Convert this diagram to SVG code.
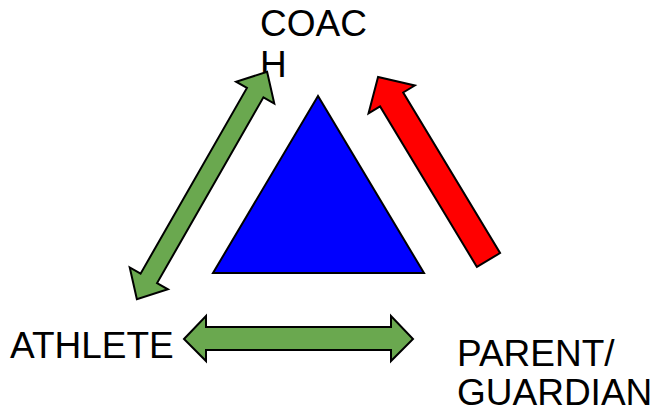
<svg xmlns="http://www.w3.org/2000/svg" width="654" height="412" viewBox="0 0 654 412">
<style>
.lbl{font-family:"Liberation Sans",Arial,sans-serif;font-size:37px;fill:#000}
.arr{stroke:#000;stroke-width:2;stroke-linejoin:miter}
.green{fill:#6aa84f}
</style>
<rect width="654" height="412" fill="#fff"/>
<g id="center-triangle">
<polygon points="318,96 213,273 424,273" fill="#0000ff" stroke="#000" stroke-width="2"/>
</g>
<g id="coach">
<text class="lbl" x="260" y="36">COAC</text>
<text class="lbl" x="260" y="77">H</text>
</g>
<g id="athlete">
<text class="lbl" x="10" y="358">ATHLETE</text>
</g>
<g id="parent-guardian">
<text class="lbl" x="457" y="366">PARENT/</text>
<text class="lbl" x="457" y="405">GUARDIAN</text>
</g>
<g id="connectors">
<path class="arr green" transform="translate(202,185.5) rotate(-60.2)" d="M -131 0 L -107 -22 L -107 -9.5 L 107 -9.5 L 107 -22 L 131 0 L 107 22 L 107 9.5 L -107 9.5 L -107 22 Z"/>
<path class="arr" fill="#ff0000" transform="translate(488.5,260) rotate(-121.1)" d="M 0 -13.5 L 187.5 -13.5 L 187.5 -27 L 213.8 0 L 187.5 27 L 187.5 13.5 L 0 13.5 Z"/>
<path class="arr green" d="M 184 339 L 206 316 L 206 327 L 391 327 L 391 316 L 413 339 L 391 361 L 391 350 L 206 350 L 206 361 Z"/>
</g>
</svg>
